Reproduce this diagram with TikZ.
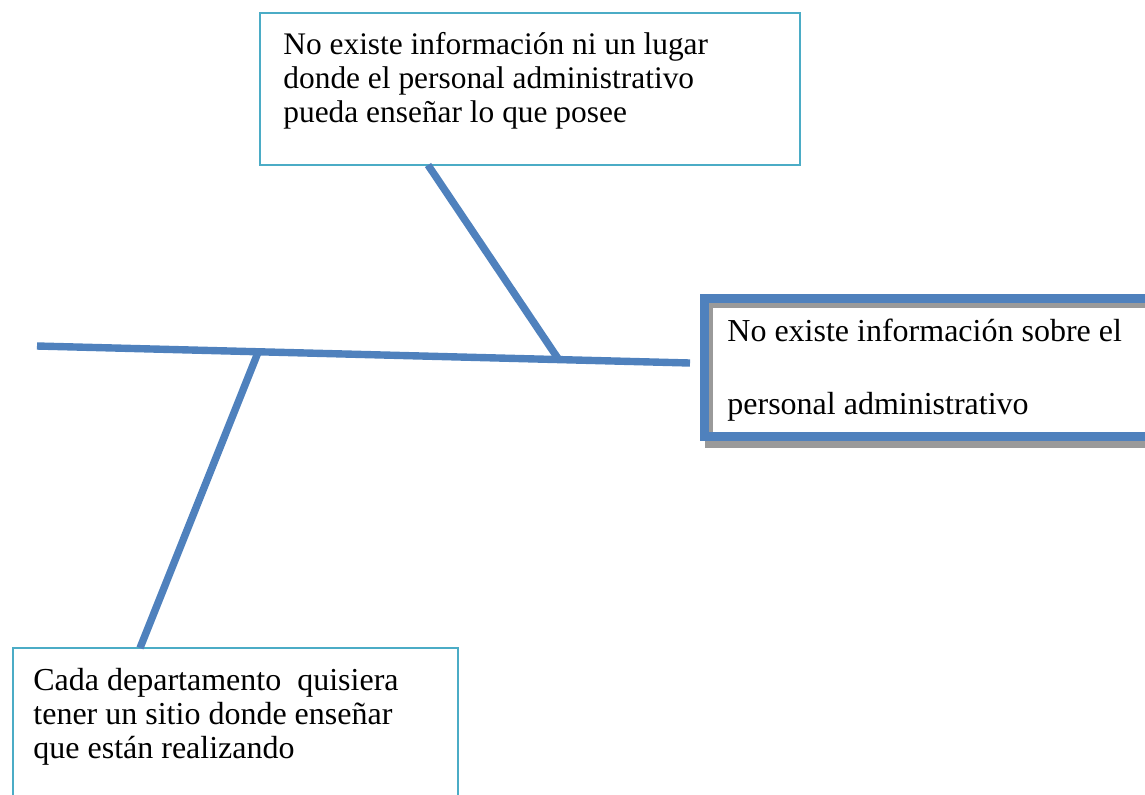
\documentclass[tikz,border=0pt]{standalone}
\usepackage{fontspec}
\setmainfont{Liberation Serif}
\definecolor{bone}{HTML}{4F81BD}
\definecolor{frame}{HTML}{4BACC6}
\definecolor{shade}{HTML}{9A9A9A}
\tikzset{
  txt/.style={anchor=base west, inner sep=0pt, font=\fontsize{15.7}{17.5}\selectfont},
  txtb/.style={anchor=base west, inner sep=0pt, font=\fontsize{16}{17.5}\selectfont},
  boxframe/.style={draw=frame, line width=0.75pt, fill=white},
  bonestyle/.style={draw=bone, line width=3.7pt},
}
\begin{document}
\begin{tikzpicture}[x=0.5pt,y=-0.5pt]
\useasboundingbox (0,0) rectangle (1145,794);
\clip (0,0) rectangle (1145,794);
% top box
\draw[boxframe] (260,13) rectangle (800,165);
\coordinate (topbox) at (428,165);
\node[txt] (t1) at (283,54) {No existe información ni un lugar};
\node[txt] (t2) at (283,88) {donde el personal administrativo};
\node[txt] (t3) at (283,122) {pueda enseñar lo que posee};
% bottom box
\draw[boxframe] (13,648) rectangle (458,820);
\coordinate (botbox) at (140,648);
\node[txtb] (b1) at (33,690) {Cada departamento\ \ quisiera};
\node[txtb] (b2) at (33,724) {tener un sitio donde enseñar};
\node[txtb] (b3) at (33,758) {que están realizando};
% right box (effect)
\draw[draw=shade, line width=4pt] (709,304) rectangle (1165,444);
\draw[draw=bone, line width=4.5pt] (704,298) rectangle (1165,436);
\node[txtb] (r1) at (727,341) {No existe información sobre el};
\node[txtb] (r2) at (727,414) {personal administrativo};
% spine and bones
\coordinate (tail) at (37,346);
\coordinate (head) at (690,363);
\coordinate (j1) at (559,360);
\coordinate (j2) at (259,350);
\draw[bonestyle] (tail) -- (head);
\draw[bonestyle] (topbox) -- (j1);
\draw[bonestyle] (j2) -- (botbox);
\end{tikzpicture}
\end{document}
